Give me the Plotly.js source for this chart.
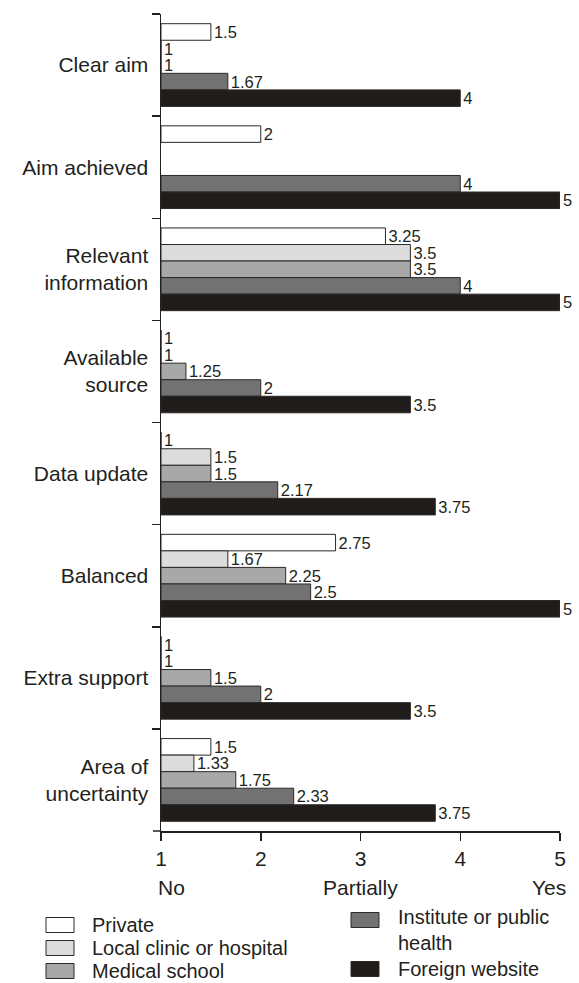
<!DOCTYPE html>
<html>
<head>
<meta charset="utf-8">
<script src="https://cdn.plot.ly/plotly-3.0.1.min.js"></script>
<style>html,body{margin:0;padding:0;background:#fff;}#chart{width:579px;height:983px;}</style>
</head>
<body>
<div id="chart"></div>
<script>
const categories = ['Clear aim', 'Aim achieved', 'Relevant<br>information', 'Available<br>source', 'Data update', 'Balanced', 'Extra support', 'Area of<br>uncertainty'];
const seriesNames = ['Private', 'Local clinic or hospital', 'Medical school', 'Institute or public<br>health', 'Foreign website'];
const privateVals   = [1.5, 2, 3.25, 1, 1, 2.75, 1, 1.5];
const localVals     = [1, null, 3.5, 1, 1.5, 1.67, 1, 1.33];
const medicalVals   = [1, null, 3.5, 1.25, 1.5, 2.25, 1.5, 1.75];
const instituteVals = [1.67, 4, 4, 2, 2.17, 2.5, 2, 2.33];
const foreignVals   = [4, 5, 5, 3.5, 3.75, 5, 3.5, 3.75];
const xTickVals = [1, 2, 3, 4, 5];
const scaleLabels = ['No', 'Partially', 'Yes'];
const scaleValues = [1, 3, 5];

const seriesVals = [privateVals, localVals, medicalVals, instituteVals, foreignVals];
const colors = ['#ffffff', '#dcdcdc', '#a8a8a8', '#727272', '#201c1a'];
const BASE = 1;
const FONT = 'Liberation Sans, Arial, sans-serif';
const INK = '#231f20';

const W = 579, H = 983;
const M = {l: 161, r: 19, t: 14, b: 152};
const PW = W - M.l - M.r, PH = H - M.t - M.b;
const px = x => (x - M.l) / PW;       // page pixel -> paper x
const py = y => 1 - (y - M.t) / PH;    // page pixel -> paper y

const traces = seriesVals.map((vals, i) => ({
  type: 'bar',
  orientation: 'h',
  name: seriesNames[i],
  y: categories,
  x: vals.map(v => v == null ? null : v - BASE),
  base: BASE,
  text: vals.map(v => v == null ? '' : String(v)),
  textposition: 'outside',
  cliponaxis: false,
  constraintext: 'none',
  textfont: {family: FONT, size: 16.5, color: INK},
  marker: {color: colors[i], line: {color: '#2a2a2a', width: 1}},
  hoverinfo: 'skip'
}));

// legend (two columns) drawn as shapes + text
const LEG_FONT = 20;
const legendCols = [0, 0, 0, 1, 1];
const legendRows = [0, 1, 2, 0, 1];
const colBoxX = [46, 351];
const colTextX = [91, 397];
const colRowY = [[925, 948, 971], [920, 969]];
const legendShapes = seriesNames.map((n, i) => {
  const c = legendCols[i], cy = colRowY[c][legendRows[i]];
  return {
    type: 'rect', xref: 'paper', yref: 'paper',
    x0: px(colBoxX[c]), x1: px(colBoxX[c] + 28), y0: py(cy - 7.5), y1: py(cy + 7.5),
    fillcolor: colors[i], line: {color: '#2a2a2a', width: 1}
  };
});
const legendTexts = seriesNames.map((n, i) => {
  const c = legendCols[i], cy = colRowY[c][legendRows[i]];
  const multi = n.indexOf('<br>') >= 0;
  return {
    text: n, xref: 'paper', yref: 'paper', x: px(colTextX[c]), y: py(cy - (multi ? 15 : 0)),
    xanchor: 'left', yanchor: multi ? 'top' : 'middle', align: 'left', showarrow: false,
    font: {family: FONT, size: LEG_FONT, color: INK}, borderpad: 0
  };
});

const layout = {
  width: W, height: H,
  margin: {l: M.l, r: M.r, t: M.t, b: M.b, pad: 0},
  paper_bgcolor: '#fff', plot_bgcolor: '#fff',
  font: {family: FONT, color: INK, size: 21},
  barmode: 'group', bargap: 0.19, bargroupgap: 0,
  showlegend: false,
  xaxis: {
    range: [1, 5], tickvals: xTickVals, ticktext: xTickVals.map(String),
    showgrid: false, zeroline: false, showline: true, linecolor: INK, linewidth: 1.5,
    ticks: 'outside', ticklen: 8, tickwidth: 1.5, tickcolor: INK,
    tickfont: {size: 21}, fixedrange: true, automargin: false
  },
  yaxis: {
    type: 'category', autorange: 'reversed', tickson: 'boundaries',
    showgrid: false, zeroline: false, showline: true, linecolor: INK, linewidth: 1.5,
    ticks: 'outside', ticklen: 8, tickwidth: 1.5, tickcolor: INK,
    ticklabelstandoff: 7,
    tickfont: {size: 21}, fixedrange: true, automargin: false
  },
  shapes: [{
    type: 'line', xref: 'paper', yref: 'paper', x0: px(153), x1: 0, y0: 0, y1: 0,
    line: {color: INK, width: 1.5}
  }].concat(legendShapes),
  annotations: scaleLabels.map((t, i) => ({
    text: t, xref: 'x', yref: 'paper', x: scaleValues[i], y: py(888),
    xanchor: i === 0 ? 'left' : (i === 2 ? 'right' : 'center'),
    xshift: i === 0 ? -4 : (i === 2 ? 7 : 0),
    yanchor: 'middle', showarrow: false, font: {size: 21}, borderpad: 0
  })).concat(legendTexts)
};

Plotly.newPlot('chart', traces, layout, {displayModeBar: false, staticPlot: true});
</script>
</body>
</html>
